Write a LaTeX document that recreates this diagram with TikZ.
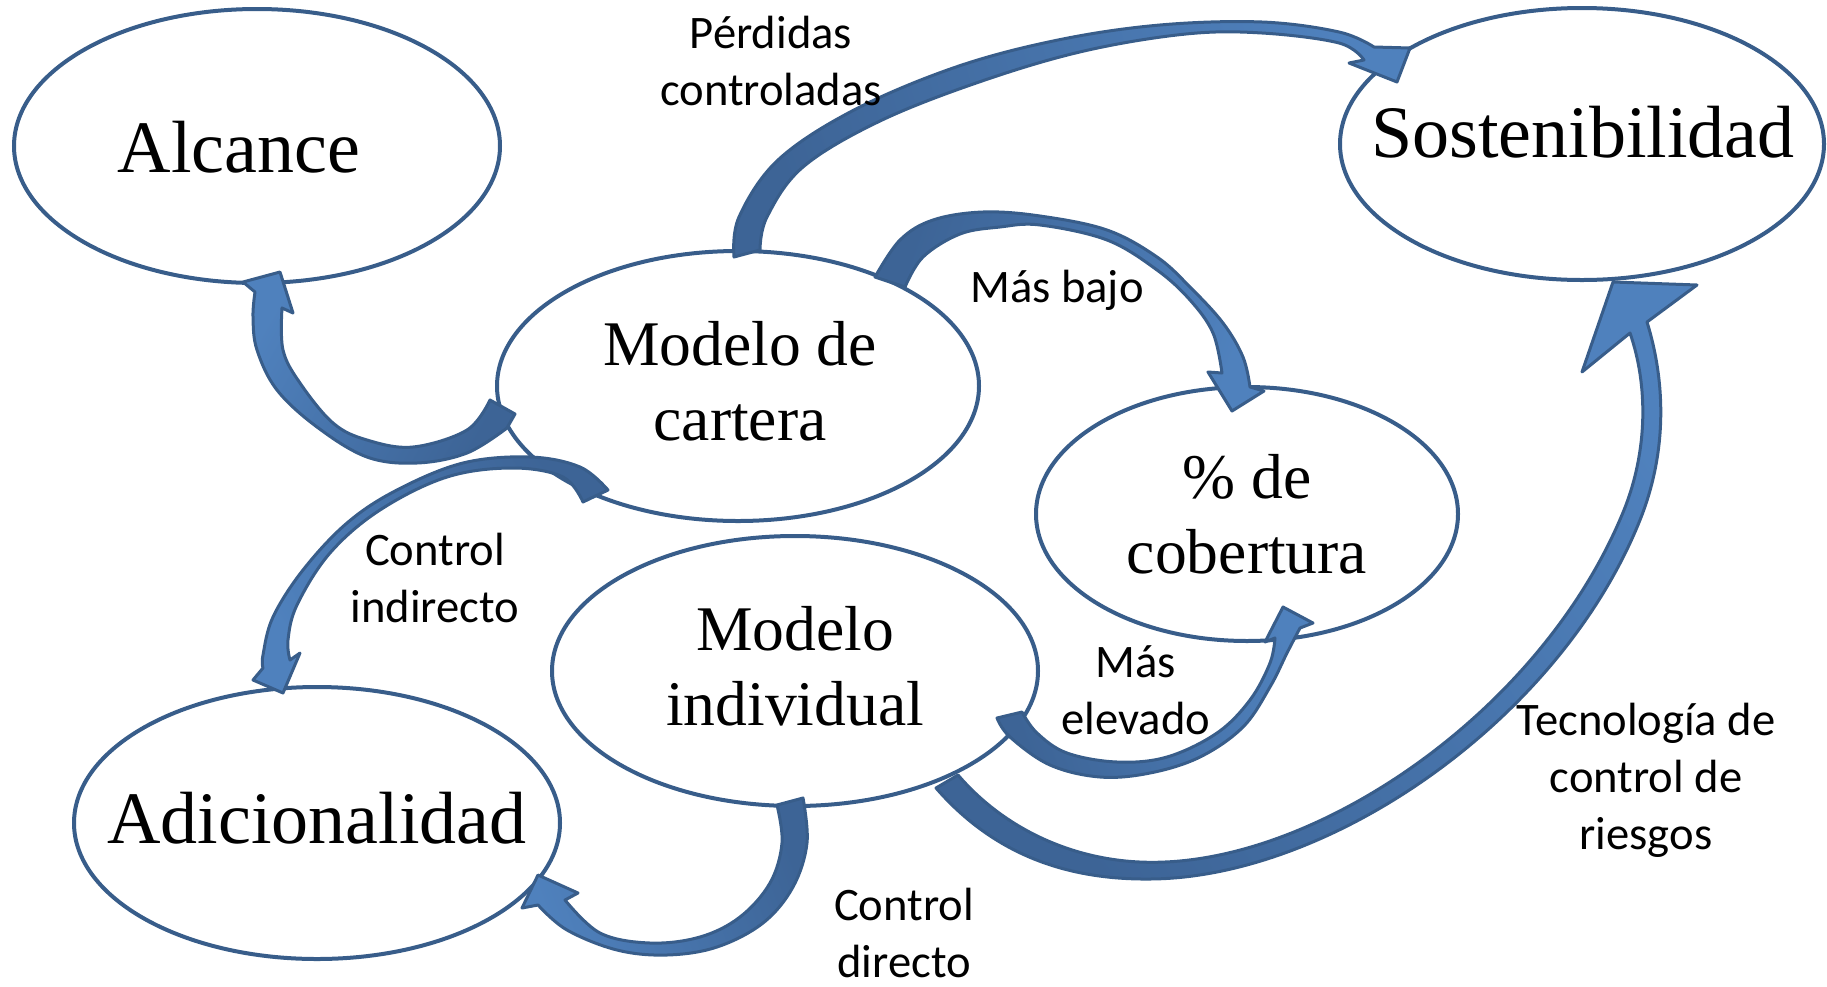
\documentclass[tikz,border=0pt]{standalone}
\usepackage{fontspec}
\setmainfont{Liberation Serif}
\newfontfamily\lblfont{Carlito}
\usetikzlibrary{shapes.geometric}
\definecolor{edgeblue}{HTML}{385D8A}
\definecolor{liteblue}{HTML}{4F81BD}
\definecolor{darkblue}{HTML}{3D6496}
\tikzset{
  bubble/.style={ellipse, draw=edgeblue, line width=2pt, fill=white, inner sep=0pt},
  bigtxt/.style={font=\fontsize{37}{43}\selectfont, anchor=base, inner sep=0pt},
  midtxt/.style={font=\fontsize{31.8}{37.5}\selectfont, align=center, anchor=base, inner sep=0pt},
  lbl/.style={font=\lblfont\fontsize{23.3}{28.5}\selectfont, align=center, anchor=base, inner sep=0pt},
  barrow/.style={draw=edgeblue, line width=1.5pt, line join=round, top color=liteblue, bottom color=darkblue},
  sm/.style={smooth, tension=0.6}
}
\begin{document}
\begin{tikzpicture}[x=0.5pt, y=-0.5pt]
\useasboundingbox (0,0) rectangle (1827,986);
% ellipses
\node[bubble, minimum width=243pt, minimum height=137pt] (alcance) at (257,146) {};
\node[bubble, minimum width=242pt, minimum height=136pt] (sost) at (1582,144) {};
\node[bubble, minimum width=241pt, minimum height=135pt] (cartera) at (738,386) {};
\node[bubble, minimum width=211pt, minimum height=127pt] (cobertura) at (1247,514) {};
\node[bubble, minimum width=243pt, minimum height=135pt] (individual) at (795,671) {};
\node[bubble, minimum width=243pt, minimum height=136pt] (adicional) at (317,823) {};

% arrow G: cartera -> adicionalidad
\path[barrow, shading angle=120]
  plot[sm] coordinates {(608,490) (580,467) (530,457) (463,463) (397,490) (347,523) (303,570) (273,617) (263,655) (263,668)}
  -- (253,680) -- (283,693) -- (300,653) --
  plot[sm] coordinates {(290,660) (288,640) (297,605) (330,553) (380,510) (447,477) (513,468) (563,477) (583,502)}
  -- cycle;
% arrow A: cartera -> alcance
\path[barrow, shading angle=60]
  plot[sm] coordinates {(507,428) (467,453) (417,463) (367,457) (317,427) (277,390) (257,350) (253,317) (255,292)}
  -- (243,282) -- (280,272) -- (293,313) --
  plot[sm] coordinates {(282,308) (283,350) (300,383) (333,423) (367,440) (413,447) (467,430) (490,400)}
  -- (515,414) -- cycle;
% arrow B: cartera -> sostenibilidad
\path[barrow, shading angle=-73]
  plot[sm] coordinates {(734,257) (739,217) (778,160) (854,110) (956,67) (1058,40) (1160,25) (1262,22) (1339,32) (1374,47)}
  -- (1410,48) -- (1397,82) -- (1349,63) --
  plot[sm] coordinates {(1364,60) (1339,43) (1262,33) (1186,34) (1084,51) (982,81) (880,121) (803,167) (767,217) (760,250)}
  -- cycle;
% arrow C: cartera -> cobertura
\path[barrow, shading angle=-109]
  plot[sm] coordinates {(875,277) (900,240) (933,220) (983,212) (1040,216) (1107,230) (1157,257) (1190,287) (1223,323) (1243,357) (1250,387)}
  -- (1264,391) -- (1232,411) -- (1208,372) --
  plot[sm] coordinates {(1222,373) (1213,333) (1190,300) (1157,270) (1107,240) (1040,225) (1000,227) (960,234) (923,257) (905,287)}
  -- cycle;
% arrow D: individual -> cobertura
\path[barrow, shading angle=-71]
  plot[sm] coordinates {(997,718) (1010,737) (1050,765) (1100,777) (1150,773) (1200,757) (1243,727) (1270,687) (1287,653) (1300,628)}
  -- (1313,623) -- (1283,607) -- (1265,642) --
  plot[sm] coordinates {(1275,638) (1270,663) (1250,700) (1217,733) (1167,757) (1117,762) (1067,753) (1037,733) (1022,712)}
  -- cycle;
% arrow E: individual -> adicionalidad
\path[barrow, shading angle=110]
  plot[sm] coordinates {(803,798) (807,843) (793,887) (763,923) (717,947) (667,955) (617,950) (567,930) (538,905)}
  -- (522,908) -- (538,875) -- (578,893) --
  plot[sm] coordinates {(565,900) (600,933) (650,943) (700,937) (740,917) (770,883) (782,843) (777,805)}
  -- cycle;
% arrow F: individual -> sostenibilidad
\path[barrow, shading angle=-55]
  (936,788) .. controls (990,850) and (1060,880) .. (1150,879)
  .. controls (1330,878) and (1560,720) .. (1640,520)
  .. controls (1668,450) and (1665,380) .. (1647,322)
  -- (1697,285) -- (1613,282) -- (1582,372) -- (1630,333)
  .. controls (1648,385) and (1648,450) .. (1624,510)
  .. controls (1545,705) and (1330,855) .. (1165,862)
  .. controls (1080,866) and (1005,830) .. (958,775)
  -- cycle;

% texts
\node[bigtxt] (alcanceT) at (239,172) {Alcance};
\node[bigtxt] (sostT) at (1583,157) {Sostenibilidad};
\node[bigtxt] (adicT) at (317,843) {Adicionalidad};
\node[midtxt] (carteraT) at (740,440) {Modelo de\\cartera};
\node[midtxt] (coberturaT) at (1247,573) {\% de\\cobertura};
\node[midtxt] (individualT) at (795,725) {Modelo\\individual};

% labels
\node[lbl] (perdidas) at (771,105) {Pérdidas\\controladas};
\node[lbl] (masbajo) at (1057,302) {Más bajo};
\node[lbl] (ctrlind) at (435,622) {Control\\indirecto};
\node[lbl] (maselev) at (1136,734) {Más\\elevado};
\node[lbl] (ctrldir) at (904,977) {Control\\directo};
\node[lbl] (tecno) at (1646,849) {Tecnología de\\control de\\riesgos};
\end{tikzpicture}
\end{document}
